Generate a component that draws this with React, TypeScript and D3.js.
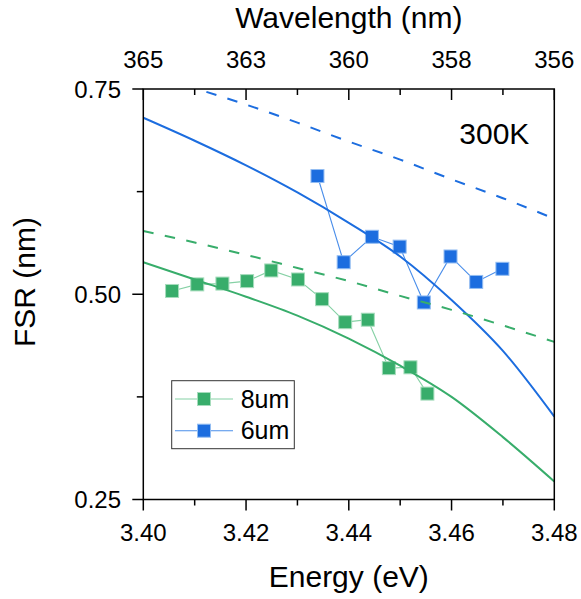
import React from "react";
import * as d3 from "d3";

// ---- data ----
const energyGrid = [3.40, 3.41, 3.42, 3.43, 3.44, 3.45, 3.46, 3.47, 3.48];
const fit6Solid = [0.715, 0.687, 0.657, 0.624, 0.587, 0.546, 0.493, 0.431, 0.351];
const fit6Dashed = [0.770, 0.751, 0.731, 0.709, 0.686, 0.664, 0.640, 0.617, 0.592];
const fit8Solid = [0.539, 0.518, 0.497, 0.474, 0.446, 0.413, 0.375, 0.326, 0.272];
const fit8Dashed = [0.577, 0.563, 0.548, 0.532, 0.516, 0.498, 0.481, 0.462, 0.442];

const energy8 = [3.4056, 3.4105, 3.4154, 3.4202, 3.4249, 3.4301, 3.4348, 3.4393, 3.4437, 3.4478, 3.4520, 3.4553];
const fsr8 = [0.504, 0.512, 0.513, 0.516, 0.529, 0.518, 0.494, 0.466, 0.469, 0.410, 0.411, 0.379];
const energy6 = [3.4339, 3.4390, 3.4445, 3.4499, 3.4546, 3.4598, 3.4648, 3.4699];
const fsr6 = [0.644, 0.539, 0.570, 0.558, 0.490, 0.546, 0.515, 0.531];

const energyMajor = [3.40, 3.42, 3.44, 3.46, 3.48];
const energyMinor = [3.41, 3.43, 3.45, 3.47];
const energyLabels = ["3.40", "3.42", "3.44", "3.46", "3.48"];
const wavelengthLabels = ["365", "363", "360", "358", "356"];
const fsrMajor = [0.25, 0.5, 0.75];
const fsrMinor = [0.375, 0.625];
const fsrLabels = ["0.25", "0.50", "0.75"];
const seriesNames = ["8um", "6um"];

const BLUE = "#1c6ddf";
const GREEN = "#38ad6b";
const FONT = "'Liberation Sans', Arial, sans-serif";

export default function App() {
  const W = 581, H = 599;
  const L = 143.3, R = 554.3, T = 89, B = 499.5;
  const x = d3.scaleLinear().domain([3.40, 3.48]).range([L, R]);
  const y = d3.scaleLinear().domain([0.25, 0.75]).range([B, T]);

  const curve = d3
    .line<[number, number]>()
    .x((d) => x(d[0]))
    .y((d) => y(d[1]))
    .curve(d3.curveMonotoneX);
  const poly = d3
    .line<[number, number]>()
    .x((d) => x(d[0]))
    .y((d) => y(d[1]));

  const zip = (a: number[], b: number[]) => a.map((v, i) => [v, b[i]] as [number, number]);

  const pts8 = zip(energy8, fsr8);
  const pts6 = zip(energy6, fsr6);
  const ms = 13;

  return (
    <div style={{ position: "absolute", left: 0, top: 0 }}>
      <svg width={W} height={H} style={{ display: "block", fontFamily: FONT }}>
        <defs>
          <clipPath id="plotClip">
            <rect x={L} y={T} width={R - L} height={B - T} />
          </clipPath>
        </defs>
        <rect x={0} y={0} width={W} height={H} fill="#fff" />

        {/* scatter connecting lines */}
        <path d={poly(pts8) || ""} fill="none" stroke="#86d1a5" strokeWidth={1.1} />
        <path d={poly(pts6) || ""} fill="none" stroke="#4a8eea" strokeWidth={1.1} />
        {pts8.map((p, i) => (
          <rect key={"g" + i} x={x(p[0]) - ms / 2} y={y(p[1]) - ms / 2} width={ms} height={ms}
            fill={GREEN} stroke="#a6dcbc" strokeWidth={1} />
        ))}
        {pts6.map((p, i) => (
          <rect key={"b" + i} x={x(p[0]) - ms / 2} y={y(p[1]) - ms / 2} width={ms} height={ms}
            fill={BLUE} stroke="#93bdf2" strokeWidth={1} />
        ))}

        {/* fitted curves */}
        <g clipPath="url(#plotClip)" fill="none" strokeWidth={2}>
          <path d={curve(zip(energyGrid, fit6Solid)) || ""} stroke={BLUE} />
          <path d={curve(zip(energyGrid, fit6Dashed)) || ""} stroke={BLUE} strokeDasharray="10.5,11.5" />
          <path d={curve(zip(energyGrid, fit8Solid)) || ""} stroke={GREEN} />
          <path d={curve(zip(energyGrid, fit8Dashed)) || ""} stroke={GREEN} strokeDasharray="10.5,11.5" />
        </g>

        {/* frame */}
        <rect x={L} y={T} width={R - L} height={B - T} fill="none" stroke="#000" strokeWidth={1.5} />

        {/* bottom & top axes */}
        {energyMajor.map((e, i) => (
          <g key={"bm" + i}>
            <line x1={x(e)} x2={x(e)} y1={B} y2={B + 11} stroke="#000" strokeWidth={1.5} />
            <line x1={x(e)} x2={x(e)} y1={T} y2={T + 11} stroke="#000" strokeWidth={1.5} />
            <text x={x(e)} y={540.7} fontSize={24} textAnchor="middle" fill="#000">{energyLabels[i]}</text>
            <text x={x(e)} y={68.3} fontSize={24} textAnchor="middle" fill="#000">{wavelengthLabels[i]}</text>
          </g>
        ))}
        {energyMinor.map((e, i) => (
          <g key={"bn" + i}>
            <line x1={x(e)} x2={x(e)} y1={B} y2={B + 6} stroke="#000" strokeWidth={1.5} />
            <line x1={x(e)} x2={x(e)} y1={T} y2={T + 6} stroke="#000" strokeWidth={1.5} />
          </g>
        ))}
        {/* left axis */}
        {fsrMajor.map((v, i) => (
          <g key={"lm" + i}>
            <line x1={L - 11} x2={L} y1={y(v)} y2={y(v)} stroke="#000" strokeWidth={1.5} />
            <text x={121} y={y(v) + 8.8} fontSize={24} textAnchor="end" fill="#000">{fsrLabels[i]}</text>
          </g>
        ))}
        {fsrMinor.map((v, i) => (
          <line key={"ln" + i} x1={L - 6.5} x2={L} y1={y(v)} y2={y(v)} stroke="#000" strokeWidth={1.5} />
        ))}

        {/* titles */}
        <text x={(L + R) / 2} y={586.7} fontSize={30} textAnchor="middle" fill="#000">Energy (eV)</text>
        <text x={(L + R) / 2} y={28.3} fontSize={30} textAnchor="middle" fill="#000">Wavelength (nm)</text>
        <text transform={`translate(34.5,282) rotate(-90)`} fontSize={30} textAnchor="middle" fill="#000">FSR (nm)</text>
        <text x={459.3} y={144.3} fontSize={30} fill="#000">300K</text>

        {/* legend */}
        <rect x={171.7} y={380.7} width={122.6} height={68} fill="#fff" stroke="#333" strokeWidth={1} />
        {[GREEN, BLUE].map((c, i) => {
          const ly = i === 0 ? 399 : 430.7;
          return (
            <g key={"lg" + i}>
              <line x1={175} x2={233} y1={ly} y2={ly} stroke={i === 0 ? "#86d1a5" : "#4a8eea"} strokeWidth={1.1} />
              <rect x={204 - ms / 2} y={ly - ms / 2} width={ms} height={ms} fill={c}
                stroke={i === 0 ? "#a6dcbc" : "#93bdf2"} strokeWidth={1} />
              <text x={240.7} y={ly + 8.6} fontSize={25} fill="#000">{seriesNames[i]}</text>
            </g>
          );
        })}
      </svg>
    </div>
  );
}
